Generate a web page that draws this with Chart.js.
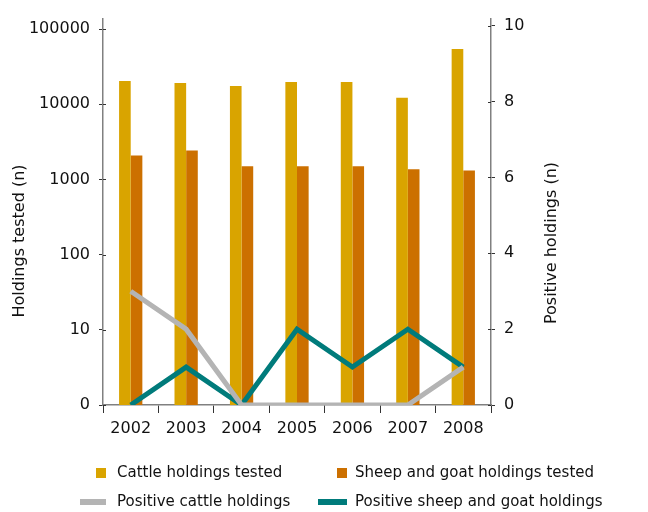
<!DOCTYPE html>
<html>
<head>
<meta charset="utf-8">
<script src="https://cdn.jsdelivr.net/npm/chart.js@4/dist/chart.umd.min.js"></script>
<style>
    html, body { margin: 0; padding: 0; background: #ffffff; }
    #wrap { width: 648px; height: 512px; position: relative; }
</style>
</head>
<body>
<div id="wrap"><canvas id="holdingsChart"></canvas></div>
<script>
/*
------------------------------------------------------------
data
------------------------------------------------------------
*/

const years = ["2002", "2003", "2004", "2005", "2006", "2007", "2008"];

const cattleTested = [20400, 19200, 17500, 19800, 19800, 12200, 54200];
const sheepTested = [2090, 2430, 1500, 1500, 1500, 1370, 1320];

const cattlePositive = [3, 2, 0, 0, 0, 0, 1];
const sheepPositive = [0, 1, 0, 2, 1, 2, 1];

const leftTicks = [1, 10, 100, 1000, 10000, 100000];
const leftTickLabels = ["0", "10", "100", "1000", "10000", "100000"];
const rightTicks = [0, 2, 4, 6, 8, 10];

const seriesLabels = [
    "Cattle holdings tested",
    "Sheep and goat holdings tested",
    "Positive cattle holdings",
    "Positive sheep and goat holdings"
];

const FONT = "'DejaVu Sans', Verdana, sans-serif";

/*
------------------------------------------------------------
legend, rotated axis titles, inner tick halves
------------------------------------------------------------
*/

const extrasPlugin = {
    id: "extras",
    afterDraw(chart) {
        const ctx = chart.ctx;
        const ds = chart.data.datasets;
        ctx.save();

        // small inward half of the y ticks (the reference uses crossing ticks)
        ctx.strokeStyle = "#333";
        ctx.lineWidth = 1;
        const yl = chart.scales.y, yr = chart.scales.y1;
        leftTicks.forEach(v => {
            const p = Math.round(yl.getPixelForValue(v)) + 0.5;
            ctx.beginPath(); ctx.moveTo(yl.right, p); ctx.lineTo(yl.right + 3, p); ctx.stroke();
        });
        rightTicks.forEach(v => {
            const p = Math.round(yr.getPixelForValue(v)) + 0.5;
            ctx.beginPath(); ctx.moveTo(yr.left - 3, p); ctx.lineTo(yr.left, p); ctx.stroke();
        });

        // axis titles, both read bottom to top
        ctx.fillStyle = "#111";
        ctx.font = "16px " + FONT;
        ctx.textAlign = "center";
        ctx.textBaseline = "middle";
        [["Holdings tested (n)", 20, 241], ["Positive holdings (n)", 552, 243]].forEach(([t, x, y]) => {
            ctx.save();
            ctx.translate(x, y);
            ctx.rotate(-Math.PI / 2);
            ctx.fillText(t, 0, 0);
            ctx.restore();
        });

        // legend
        const items = [
            { i: 0, x: 96, y: 473, w: 10, h: 10, tx: 117 },
            { i: 1, x: 337, y: 473, w: 10, h: 10, tx: 355 },
            { i: 2, x: 80, y: 502, w: 26, h: 6, tx: 117 },
            { i: 3, x: 318, y: 502, w: 29, h: 6, tx: 355 }
        ];
        ctx.font = "15px " + FONT;
        ctx.textAlign = "left";
        items.forEach(it => {
            const d = ds[it.i];
            ctx.fillStyle = d.type === "line" ? d.borderColor : d.backgroundColor;
            ctx.fillRect(it.x, it.y - it.h / 2, it.w, it.h);
            ctx.fillStyle = "#111";
            ctx.fillText(d.label, it.tx, it.y);
        });

        ctx.restore();
    }
};

/*
------------------------------------------------------------
chart
------------------------------------------------------------
*/

const ctx = document.getElementById("holdingsChart").getContext("2d");

new Chart(ctx, {
    data: {
        labels: years,
        datasets: [
            {
                type: "bar",
                label: seriesLabels[0],
                data: cattleTested,
                backgroundColor: "#d9a400",
                borderWidth: 0,
                yAxisID: "y",
                categoryPercentage: 0.42,
                barPercentage: 1.0,
                order: 2
            },
            {
                type: "bar",
                label: seriesLabels[1],
                data: sheepTested,
                backgroundColor: "#cc7000",
                borderWidth: 0,
                yAxisID: "y",
                categoryPercentage: 0.42,
                barPercentage: 1.0,
                order: 2
            },
            {
                type: "line",
                label: seriesLabels[2],
                data: cattlePositive,
                borderColor: "#b4b4b4",
                borderWidth: 5,
                pointRadius: 0,
                tension: 0,
                yAxisID: "y1",
                order: 0
            },
            {
                type: "line",
                label: seriesLabels[3],
                data: sheepPositive,
                borderColor: "#007b7b",
                borderWidth: 5,
                pointRadius: 0,
                tension: 0,
                yAxisID: "y1",
                order: 1
            }
        ]
    },
    options: {
        responsive: true,
        maintainAspectRatio: false,
        animation: false,
        devicePixelRatio: 1,
        layout: { padding: { left: 0, right: 0, top: 16, bottom: 72 } },
        plugins: {
            legend: { display: false },
            tooltip: { enabled: false }
        },
        scales: {
            x: {
                offset: true,
                grid: { offset: true, drawOnChartArea: false, tickLength: 8, color: "#333", lineWidth: 1 },
                border: { color: "#808080", width: 1.5 },
                ticks: { color: "#111", font: { family: FONT, size: 16 }, padding: 6, maxRotation: 0 },
                afterFit(scale) { scale.height = 35; }
            },
            y: {
                type: "logarithmic",
                position: "left",
                min: 1,
                max: 138000,
                grid: { drawOnChartArea: false, tickLength: 4, color: "#333" },
                border: { color: "#808080", width: 1.5 },
                ticks: {
                    color: "#111",
                    font: { family: FONT, size: 16 },
                    padding: 9,
                    callback: (v) => {
                        const k = leftTicks.indexOf(v);
                        return k >= 0 ? leftTickLabels[k] : "";
                    }
                },
                afterBuildTicks(scale) { scale.ticks = leftTicks.map(v => ({ value: v })); },
                afterFit(scale) { scale.width = 103; }
            },
            y1: {
                type: "linear",
                position: "right",
                min: 0,
                max: 10.19,
                grid: { drawOnChartArea: false, tickLength: 4, color: "#333" },
                border: { color: "#808080", width: 1.5 },
                ticks: { color: "#111", font: { family: FONT, size: 16 }, padding: 9, stepSize: 2 },
                afterBuildTicks(scale) { scale.ticks = rightTicks.map(v => ({ value: v })); },
                afterFit(scale) { scale.width = 157; }
            }
        }
    },
    plugins: [extrasPlugin]
});
</script>
</body>
</html>
